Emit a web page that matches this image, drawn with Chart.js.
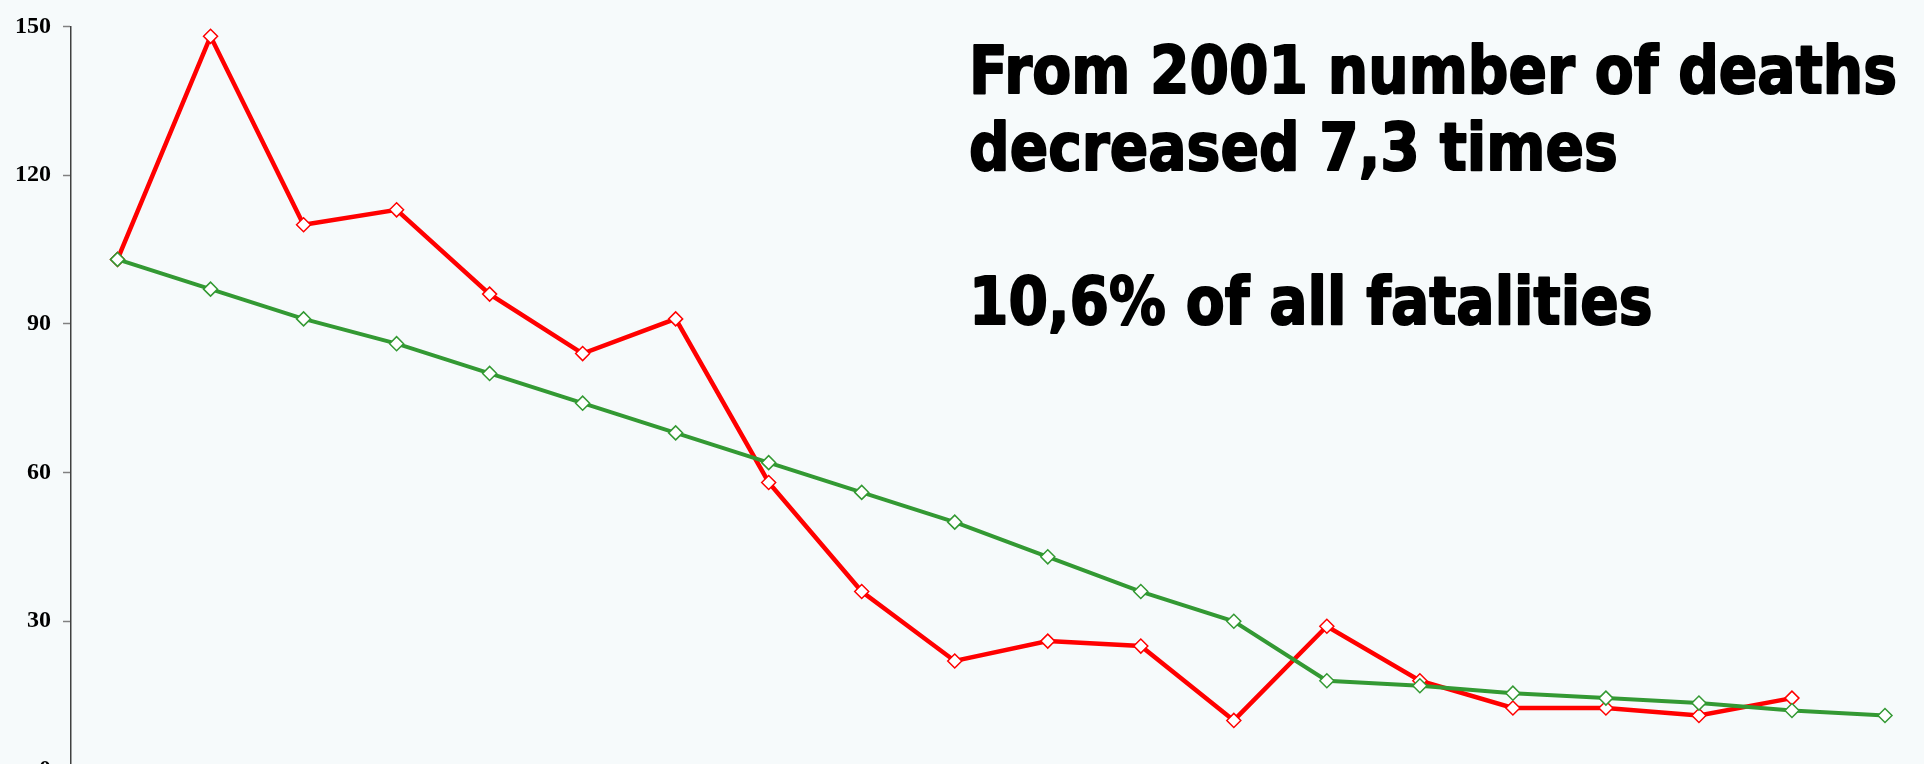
<!DOCTYPE html>
<html>
<head>
<meta charset="utf-8">
<script src="https://cdn.jsdelivr.net/npm/chart.js@4.4.0/dist/chart.umd.min.js"></script>
<style>
    html, body { margin: 0; padding: 0; overflow: hidden; background: #f6fafb; }
    #wrap { position: absolute; left: 0; top: 0; width: 1940px; height: 800px; }
</style>
</head>
<body>
<div id="wrap"><canvas id="deathsChart"></canvas></div>
<script>
// Years along the x axis (labels sit below the visible area)
const years = ['2000', '2001', '2002', '2003', '2004', '2005', '2006', '2007', '2008', '2009',
               '2010', '2011', '2012', '2013', '2014', '2015', '2016', '2017', '2018', '2019'];

// Actual number of deaths
const actualDeaths = [103, 148, 110, 113, 96, 84, 91, 58, 36, 22, 26, 25, 10, 29, 18, 12.5, 12.5, 11, 14.5];

// Target trend line
const targetDeaths = [103, 97, 91, 86, 80, 74, 68, 62, 56, 50, 43, 36, 30, 18, 17, 15.5, 14.5, 13.5, 12, 11];

const yTicks = [0, 30, 60, 90, 120, 150];

const noteLines = ['From 2001 number of deaths', 'decreased 7,3 times', '', '10,6% of all fatalities'];

// Big bold note in the top right corner
const notePlugin = {
    id: 'note',
    afterDraw(chart) {
        const ctx = chart.ctx;
        ctx.save();
        ctx.font = "bold 65px 'DejaVu Sans', sans-serif";
        ctx.fillStyle = '#000000';
        ctx.strokeStyle = '#000000';
        ctx.lineWidth = 2;
        ctx.lineJoin = 'round';
        ctx.textBaseline = 'alphabetic';
        ctx.textAlign = 'left';
        const squeeze = 928 / ctx.measureText(noteLines[0]).width;
        noteLines.forEach((line, i) => {
            if (!line) return;
            ctx.save();
            ctx.translate(969, 93 + i * 77);
            ctx.scale(squeeze, 1);
            ctx.fillText(line, 0, 0);
            ctx.strokeText(line, 0, 0);
            ctx.restore();
        });
        ctx.restore();
    }
};

const ctx = document.getElementById('deathsChart');
new Chart(ctx, {
    type: 'line',
    data: {
        labels: years,
        datasets: [
            {
                label: 'Target',
                data: targetDeaths,
                borderColor: '#339933',
                borderWidth: 4,
                pointStyle: 'rectRot',
                pointRadius: 7,
                pointBorderWidth: 1.5,
                pointBorderColor: '#339933',
                pointBackgroundColor: '#ffffff',
                tension: 0
            },
            {
                label: 'Deaths',
                data: actualDeaths,
                borderColor: '#ff0000',
                borderWidth: 4.5,
                pointStyle: 'rectRot',
                pointRadius: 7,
                pointBorderWidth: 1.5,
                pointBorderColor: '#ff0000',
                pointBackgroundColor: '#ffffff',
                tension: 0
            }
        ]
    },
    options: {
        responsive: true,
        maintainAspectRatio: false,
        animation: false,
        layout: {
            padding: { top: 22, right: 8, bottom: 30, left: 0 }
        },
        plugins: {
            legend: { display: false },
            tooltip: { enabled: false }
        },
        scales: {
            x: {
                display: false,
                offset: true
            },
            y: {
                min: 0,
                max: 150,
                afterBuildTicks: (scale) => {
                    scale.ticks = yTicks.map(v => ({ value: v }));
                },
                afterFit: (scale) => {
                    scale.width = 71;
                },
                grid: {
                    drawOnChartArea: false,
                    drawTicks: true,
                    tickLength: 8,
                    tickColor: '#808080',
                    tickWidth: 1.5
                },
                border: {
                    color: '#404040',
                    width: 1.5
                },
                ticks: {
                    color: '#000000',
                    padding: 12,
                    font: {
                        family: "'Liberation Serif', serif",
                        weight: 'bold',
                        size: 24
                    }
                }
            }
        }
    },
    plugins: [notePlugin]
});
</script>
</body>
</html>
